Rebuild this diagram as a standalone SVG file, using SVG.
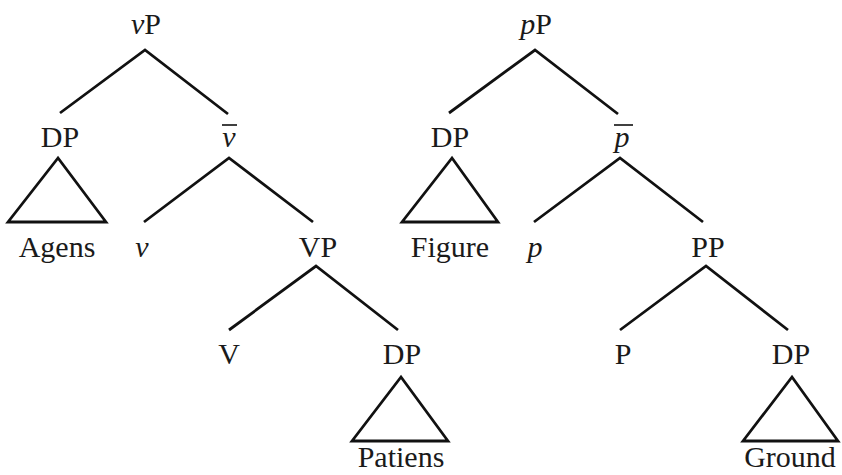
<svg xmlns="http://www.w3.org/2000/svg" width="842" height="475" viewBox="0 0 842 475">
<style>
text{font-family:"Liberation Serif","Times New Roman",serif;font-size:30px;fill:#1a1a1a;text-anchor:middle}
.i{font-style:italic}
.e{stroke:#111;stroke-width:2.8;fill:none;stroke-linecap:butt}
.bar{stroke:#111;stroke-width:1.6}
.tri{stroke:#111;stroke-width:2.8;fill:none;stroke-linejoin:miter}
</style>
<rect width="842" height="475" fill="#fff"/>
<g id="connectors">
<polyline class="e" points="60,113 145,50 228,114"/>
<polyline class="e" points="144,222 229,158 313,222"/>
<polyline class="e" points="229,330 316,266 398,330"/>
<polyline class="e" points="449,113 535,50 618,114"/>
<polyline class="e" points="534,222 620,158 703,222"/>
<polyline class="e" points="620,330 706,266 788,330"/>
</g>
<g id="vP"><text x="146" y="34"><tspan class="i">v</tspan>P</text></g>
<g id="DP1"><text x="60" y="147">DP</text></g>
<g id="vbar"><text x="229" y="147" class="i">v</text><line class="bar" x1="222" y1="125" x2="237" y2="125"/></g>
<g id="Agens"><polygon class="tri" points="58,158 8,222 106,222"/><text x="57" y="257">Agens</text></g>
<g id="v"><text x="142" y="257" class="i">v</text></g>
<g id="VP"><text x="318" y="257">VP</text></g>
<g id="V"><text x="229" y="364">V</text></g>
<g id="DP2"><text x="402" y="364">DP</text></g>
<g id="Patiens"><polygon class="tri" points="401,377 352,441 448,441"/><text x="401" y="467">Patiens</text></g>
<g id="pP"><text x="536" y="34"><tspan class="i">p</tspan>P</text></g>
<g id="DP3"><text x="450" y="147">DP</text></g>
<g id="pbar"><text x="622" y="147" class="i">p</text><line class="bar" x1="614" y1="125" x2="633" y2="125"/></g>
<g id="Figure"><polygon class="tri" points="452,158 402,222 498,222"/><text x="450" y="257">Figure</text></g>
<g id="p"><text x="535" y="257" class="i">p</text></g>
<g id="PP"><text x="708" y="257">PP</text></g>
<g id="P"><text x="623" y="364">P</text></g>
<g id="DP4"><text x="791" y="364">DP</text></g>
<g id="Ground"><polygon class="tri" points="792,377 743,441 838,441"/><text x="790" y="467">Ground</text></g>
</svg>
